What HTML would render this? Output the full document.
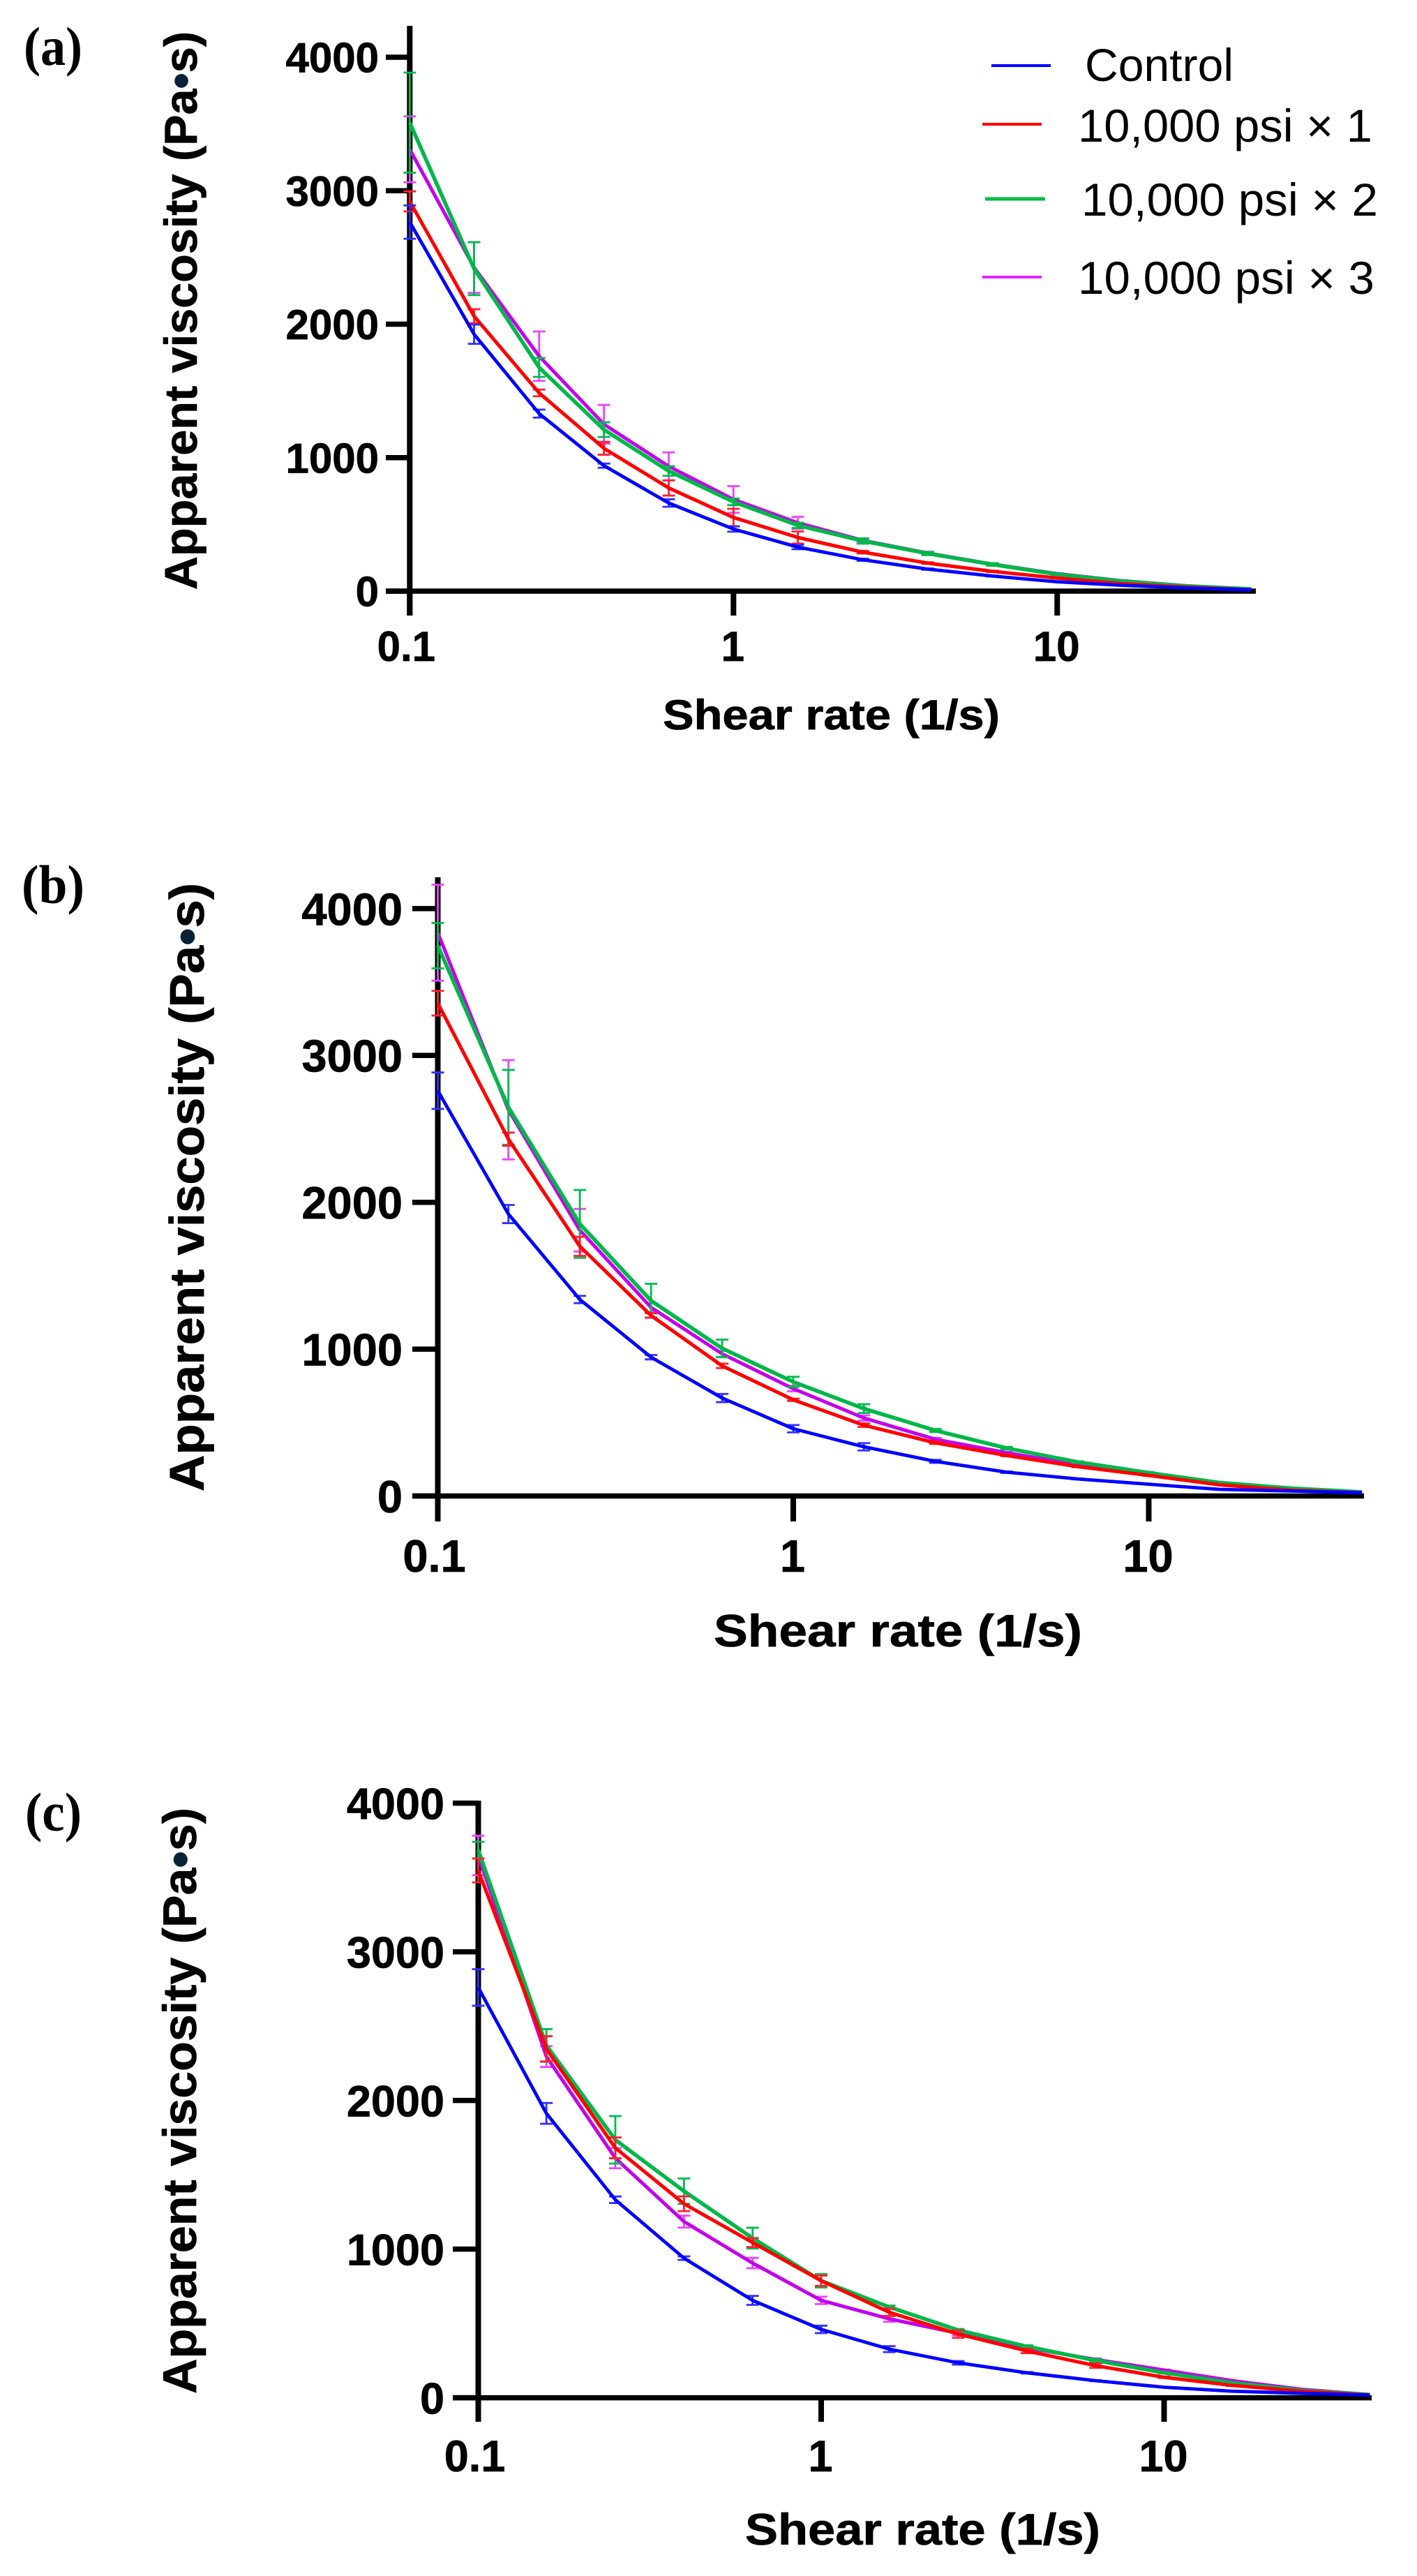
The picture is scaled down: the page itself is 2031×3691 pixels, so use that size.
<!DOCTYPE html>
<html lang="en">
<head>
<meta charset="utf-8">
<title>Apparent viscosity vs shear rate</title>
<style>
  html, body { margin: 0; padding: 0; background: #fff; }
  svg { display: block; font-family: "Liberation Sans", Arial, sans-serif; }
  .ttl { font-weight: bold; fill: #000; stroke: #000; stroke-width: 0.7px; }
  .plab { font-family: "Liberation Serif", serif; font-weight: bold; font-size: 78px; fill: #000; }
  .leg { font-size: 66px; fill: #000; }
</style>
</head>
<body>
<svg id="figure" xmlns="http://www.w3.org/2000/svg" width="2031" height="3691" viewBox="0 0 2031 3691">
  <rect x="0" y="0" width="2031" height="3691" fill="#fff"/>

  <text class="plab" x="34" y="93" textLength="84" lengthAdjust="spacingAndGlyphs">(a)</text>
  <text class="plab" x="31" y="1294" textLength="90" lengthAdjust="spacingAndGlyphs">(b)</text>
  <text class="plab" x="36" y="2623" textLength="81" lengthAdjust="spacingAndGlyphs">(c)</text>

  <text class="ttl" font-size="66" textLength="800" lengthAdjust="spacingAndGlyphs" transform="translate(282 845) rotate(-90)">Apparent viscosity (Pa<tspan fill="#0a2238" stroke="#0a2238">•</tspan>s)</text>
  <text class="ttl" font-size="60" textLength="483" lengthAdjust="spacingAndGlyphs" x="950" y="1045">Shear rate (1/s)</text>

  <text class="ttl" font-size="70" textLength="872" lengthAdjust="spacingAndGlyphs" transform="translate(292 2137) rotate(-90)">Apparent viscosity (Pa<tspan fill="#0a2238" stroke="#0a2238">•</tspan>s)</text>
  <text class="ttl" font-size="65" textLength="528" lengthAdjust="spacingAndGlyphs" x="1023" y="2359">Shear rate (1/s)</text>

  <text class="ttl" font-size="68" textLength="840" lengthAdjust="spacingAndGlyphs" transform="translate(281 3430) rotate(-90)">Apparent viscosity (Pa<tspan fill="#0a2238" stroke="#0a2238">•</tspan>s)</text>
  <text class="ttl" font-size="63" textLength="509" lengthAdjust="spacingAndGlyphs" x="1068" y="3646">Shear rate (1/s)</text>

  <g>
    <line x1="1421" y1="94" x2="1506" y2="94" stroke="#0000ff" stroke-width="4"/>
    <text class="leg" x="1555" y="116" textLength="213" lengthAdjust="spacingAndGlyphs">Control</text>
    <line x1="1408" y1="178" x2="1493" y2="178" stroke="#ff0000" stroke-width="4"/>
    <text class="leg" x="1545" y="203" textLength="422" lengthAdjust="spacingAndGlyphs">10,000 psi × 1</text>
    <line x1="1412" y1="285" x2="1498" y2="285" stroke="#00c040" stroke-width="5"/>
    <text class="leg" x="1550" y="309" textLength="425" lengthAdjust="spacingAndGlyphs">10,000 psi × 2</text>
    <line x1="1408" y1="397" x2="1493" y2="397" stroke="#e020ff" stroke-width="4"/>
    <text class="leg" x="1545" y="421" textLength="425" lengthAdjust="spacingAndGlyphs">10,000 psi × 3</text>
  </g>
</svg>

<script>
// Shared axis values
const shearRates = [0.1, 0.158, 0.251, 0.398, 0.631, 1, 1.58, 2.51, 3.98, 6.31, 10, 15.8, 25.1, 39.8];
const yTickValues = [0, 1000, 2000, 3000, 4000];
const yTickLabels = ['0', '1000', '2000', '3000', '4000'];
const xTickValues = [0.1, 1, 10];
const xTickLabels = ['0.1', '1', '10'];

// Panel (a)
const aControl = [2765, 1925, 1330, 940, 660, 465, 330, 235, 165, 113, 70, 44, 24, 10];
const aControlErr = [125, 72, 30, 16, 28, 20, 16, 8, 5, 3, 2, 1, 1, 0];
const aOnePass = [2920, 2060, 1485, 1070, 773, 552, 402, 292, 210, 148, 98, 56, 30, 10];
const aOnePassErr = [75, 52, 25, 48, 57, 65, 45, 10, 6, 5, 3, 2, 1, 0];
const aTwoPass = [3510, 2416, 1676, 1210, 900, 669, 493, 376, 282, 200, 126, 75, 38, 16];
const aTwoPassErr = [375, 198, 71, 55, 36, 25, 20, 20, 12, 10, 5, 3, 2, 1];
const aThreePass = [3310, 2425, 1760, 1250, 935, 687, 512, 380, 285, 202, 130, 78, 40, 15];
const aThreePassErr = [247, 190, 185, 145, 105, 100, 45, 15, 10, 8, 5, 3, 2, 1];

// Panel (b)
const bControl = [2760, 1920, 1338, 945, 667, 458, 335, 236, 162, 116, 80, 45, 34, 22];
const bControlErr = [124, 62, 25, 15, 28, 25, 25, 10, 5, 3, 2, 1, 1, 0];
const bOnePass = [3356, 2430, 1700, 1229, 886, 655, 482, 362, 276, 200, 140, 76, 40, 22];
const bOnePassErr = [84, 45, 65, 15, 15, 8, 12, 8, 5, 4, 3, 2, 1, 0];
const bTwoPass = [3748, 2647, 1853, 1330, 1005, 777, 595, 446, 326, 231, 158, 91, 53, 27];
const bTwoPassErr = [155, 255, 231, 115, 60, 35, 30, 10, 8, 5, 4, 2, 1, 0];
const bThreePass = [3836, 2630, 1810, 1284, 968, 731, 531, 386, 295, 213, 149, 85, 45, 22];
const bThreePassErr = [327, 338, 145, 30, 20, 18, 18, 10, 6, 4, 3, 2, 1, 0];

// Panel (c)
const cControl = [2760, 1913, 1332, 939, 655, 460, 327, 235, 168, 115, 71, 44, 30, 18];
const cControlErr = [123, 70, 22, 12, 30, 25, 20, 12, 5, 3, 2, 1, 1, 0];
const cOnePass = [3547, 2347, 1681, 1305, 1044, 787, 575, 428, 315, 216, 138, 83, 44, 18];
const cOnePassErr = [80, 85, 70, 50, 30, 35, 25, 25, 15, 15, 5, 3, 1, 0];
const cTwoPass = [3684, 2370, 1735, 1390, 1074, 787, 610, 455, 345, 251, 168, 101, 50, 21];
const cTwoPassErr = [56, 110, 160, 85, 70, 45, 10, 8, 8, 10, 4, 2, 1, 0];
const cThreePass = [3648, 2295, 1612, 1185, 906, 655, 531, 434, 336, 257, 186, 115, 57, 21];
const cThreePassErr = [133, 70, 68, 40, 35, 25, 20, 15, 8, 8, 4, 2, 1, 0];

const svgNS = 'http://www.w3.org/2000/svg';
const figure = document.getElementById('figure');

function make(parent, tag, attrs) {
  const el = document.createElementNS(svgNS, tag);
  for (const key in attrs) el.setAttribute(key, attrs[key]);
  parent.appendChild(el);
  return el;
}

function drawPanel(id, geo, series) {
  const xScale = v => geo.x0 + geo.decade * (Math.log10(v) + 1);
  const yScale = v => geo.y0 - geo.perUnit * v;

  const panel = make(figure, 'g', {});
  
  

  const yAxis = make(panel, 'line', { x1: geo.x0, x2: geo.x0, y1: geo.top, y2: geo.bottom, stroke: '#000', 'stroke-width': 8 });
  
  

  const xAxis = make(panel, 'line', { x1: geo.tickLeft, x2: geo.xEnd, y1: geo.y0, y2: geo.y0, stroke: '#000', 'stroke-width': 7.5 });
  
  

  yTickValues.forEach((v, i) => {
    const tick = make(panel, 'line', { x1: geo.tickLeft, x2: geo.x0, y1: yScale(v), y2: yScale(v), stroke: '#000', 'stroke-width': 7.5 });
    
    

    const label = make(panel, 'text', { x: geo.yLabelX, y: yScale(v) + geo.fontSize * 0.36, 'text-anchor': 'end', 'font-size': geo.fontSize, 'font-weight': 'bold', fill: '#000', stroke: '#000', 'stroke-width': 0.7 });
    label.textContent = yTickLabels[i];
    
    
  });

  xTickValues.forEach((v, i) => {
    const tick = make(panel, 'line', { x1: xScale(v), x2: xScale(v), y1: geo.y0, y2: geo.bottom, stroke: '#000', 'stroke-width': 8 });
    
    

    const label = make(panel, 'text', { x: xScale(v) + (i === 0 ? -5 : -1), y: geo.xLabelY, 'text-anchor': 'middle', 'font-size': geo.fontSize, 'font-weight': 'bold', fill: '#000', stroke: '#000', 'stroke-width': 0.7 });
    label.textContent = xTickLabels[i];
    
    
  });

  series.forEach(s => {
    const group = make(panel, 'g', {});
    
    

    shearRates.forEach((rate, i) => {
      if (s.err[i] < 3) return;
      const px = xScale(rate);
      const hi = yScale(s.mean[i] + s.err[i]);
      const lo = yScale(s.mean[i] - s.err[i]);
      const bar = make(group, 'path', {
        d: 'M' + px + ' ' + hi + 'V' + lo + 'M' + (px - 9) + ' ' + hi + 'H' + (px + 9) + 'M' + (px - 9) + ' ' + lo + 'H' + (px + 9),
        fill: 'none', stroke: s.errColor, 'stroke-width': 2.8
      });
      
      
    });

    const points = shearRates.map((rate, i) => xScale(rate) + ',' + yScale(s.mean[i])).join(' ');
    const curve = make(group, 'polyline', { points: points, fill: 'none', stroke: s.color, 'stroke-width': s.width, 'stroke-linejoin': 'round' });
    
    
  });
}

const colorThree = { color: '#c400ec', errColor: '#ee44ff', width: 5 };
const colorTwo = { color: '#00b848', errColor: '#00bb50', width: 5.5 };
const colorOne = { color: '#ff0000', errColor: '#ff2030', width: 5 };
const colorControl = { color: '#0000ff', errColor: '#3030ff', width: 4.8 };

drawPanel('a',
  { x0: 587.3, decade: 464, y0: 847, perUnit: 0.19125, top: 37, bottom: 882, tickLeft: 553, xEnd: 1800, yLabelX: 543, xLabelY: 947, fontSize: 60 },
  [
    Object.assign({ name: '3-pass', mean: aThreePass, err: aThreePassErr }, colorThree),
    Object.assign({ name: '2-pass', mean: aTwoPass, err: aTwoPassErr }, colorTwo),
    Object.assign({ name: '1-pass', mean: aOnePass, err: aOnePassErr }, colorOne),
    Object.assign({ name: 'control', mean: aControl, err: aControlErr }, colorControl)
  ]);

drawPanel('b',
  { x0: 627.5, decade: 509.5, y0: 2143.5, perUnit: 0.2104, top: 1257, bottom: 2180, tickLeft: 591, xEnd: 1955, yLabelX: 577, xLabelY: 2252, fontSize: 65 },
  [
    Object.assign({ name: '3-pass', mean: bThreePass, err: bThreePassErr }, colorThree),
    Object.assign({ name: '2-pass', mean: bTwoPass, err: bTwoPassErr }, colorTwo),
    Object.assign({ name: '1-pass', mean: bOnePass, err: bOnePassErr }, colorOne),
    Object.assign({ name: 'control', mean: bControl, err: bControlErr }, colorControl)
  ]);

drawPanel('c',
  { x0: 685.5, decade: 491.5, y0: 3435.6, perUnit: 0.213, top: 2580, bottom: 3470, tickLeft: 649, xEnd: 1966, yLabelX: 637, xLabelY: 3541, fontSize: 63 },
  [
    Object.assign({ name: '3-pass', mean: cThreePass, err: cThreePassErr }, colorThree),
    Object.assign({ name: '2-pass', mean: cTwoPass, err: cTwoPassErr }, colorTwo),
    Object.assign({ name: '1-pass', mean: cOnePass, err: cOnePassErr }, colorOne),
    Object.assign({ name: 'control', mean: cControl, err: cControlErr }, colorControl)
  ]);
</script>
</body>
</html>
